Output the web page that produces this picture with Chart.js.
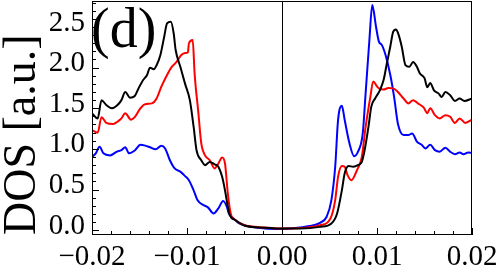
<!DOCTYPE html>
<html>
<head>
<meta charset="utf-8">
<script src="https://cdn.jsdelivr.net/npm/chart.js@4/dist/chart.umd.min.js"></script>
<style>
  body { margin: 0; background: #fff; }
  canvas { display: block; }
</style>
</head>
<body>
<canvas id="dosChart" width="500" height="269"></canvas>
<script>
// Energy / DOS readings for each curve
const blackE = [-0.0200,-0.0194,-0.0190,-0.0185,-0.0179,-0.0174,-0.0169,-0.0165,-0.0160,-0.0155,-0.0151,-0.0146,-0.0142,-0.0139,-0.0135,-0.0132,-0.0128,-0.0124,-0.0121,-0.0117,-0.0114,-0.0112,-0.0107,-0.0102,-0.0097,-0.0093,-0.0090,-0.0085,-0.0081,-0.0076,-0.0071,-0.0067,-0.0063,-0.0060,-0.0057,-0.0055,-0.0049,-0.0039,-0.0018,0,0.0019,0.0040,0.0052,0.0058,0.0063,0.0066,0.0070,0.0075,0.0080,0.0084,0.0087,0.0091,0.0094,0.0098,0.0103,0.0107,0.0110,0.0114,0.0117,0.0120,0.0122,0.0126,0.0130,0.0134,0.0138,0.0142,0.0145,0.0150,0.0153,0.0156,0.0160,0.0165,0.0168,0.0172,0.0177,0.0182,0.0187,0.0192,0.0200];
const blackDos = [1.44,1.375,1.60,1.54,1.50,1.53,1.60,1.70,1.63,1.65,1.745,1.85,1.91,2.0,1.98,2.03,2.155,2.38,2.545,2.565,2.42,2.22,2.01,1.80,1.60,1.27,0.985,0.86,0.80,0.84,0.81,0.78,0.656,0.49,0.287,0.185,0.123,0.053,0.03,0.02,0.02,0.04,0.082,0.205,0.49,0.70,0.79,0.78,0.80,0.84,0.985,1.27,1.52,1.62,1.72,1.85,2.03,2.26,2.44,2.47,2.43,2.26,2.03,2.01,2.07,2.01,1.93,1.87,1.76,1.81,1.72,1.68,1.64,1.70,1.66,1.59,1.62,1.59,1.62];

const redE = [-0.0200,-0.0194,-0.0190,-0.0185,-0.0178,-0.0172,-0.0169,-0.0165,-0.0159,-0.0155,-0.0149,-0.0144,-0.0137,-0.0132,-0.0127,-0.0121,-0.0116,-0.0111,-0.0106,-0.0102,-0.0099,-0.0098,-0.0094,-0.0092,-0.0088,-0.0085,-0.0081,-0.0076,-0.0071,-0.0067,-0.0063,-0.0060,-0.0057,-0.0054,-0.0049,-0.0039,-0.0018,0,0.0019,0.0040,0.0051,0.0056,0.0059,0.0063,0.0066,0.0069,0.0073,0.0079,0.0084,0.0088,0.0093,0.0096,0.0100,0.0102,0.0107,0.0112,0.0117,0.0122,0.0128,0.0133,0.0138,0.0143,0.0149,0.0153,0.0156,0.0161,0.0166,0.0172,0.0177,0.0182,0.0187,0.0193,0.0200];
const redDos = [1.23,1.20,1.39,1.32,1.305,1.345,1.375,1.44,1.36,1.39,1.50,1.55,1.56,1.62,1.765,1.91,2.01,2.07,2.155,2.18,2.19,2.30,2.34,1.93,1.44,1.07,0.92,0.86,0.76,0.82,0.895,0.82,0.45,0.205,0.123,0.06,0.033,0.02,0.025,0.06,0.144,0.37,0.656,0.79,0.78,0.677,0.615,0.74,0.90,1.27,1.64,1.83,1.77,1.745,1.73,1.75,1.745,1.70,1.62,1.56,1.60,1.56,1.51,1.44,1.50,1.415,1.375,1.415,1.395,1.32,1.375,1.32,1.36];

const blueE = [-0.0200,-0.0196,-0.0192,-0.0188,-0.0181,-0.0174,-0.0169,-0.0165,-0.0161,-0.0155,-0.0149,-0.0144,-0.0139,-0.0133,-0.0127,-0.0123,-0.0118,-0.0113,-0.0107,-0.0102,-0.0098,-0.0093,-0.0089,-0.0083,-0.0078,-0.0072,-0.0067,-0.0062,-0.0058,-0.0056,-0.0051,-0.0046,-0.0032,-0.0018,0,0.0008,0.0029,0.0040,0.0047,0.0052,0.0056,0.0059,0.0063,0.0066,0.0071,0.0076,0.0080,0.0085,0.0088,0.0092,0.0095,0.0099,0.0102,0.0105,0.0109,0.0114,0.0118,0.0122,0.0128,0.0133,0.0137,0.0142,0.0147,0.0151,0.0156,0.0161,0.0166,0.0172,0.0177,0.0182,0.0187,0.0191,0.0196,0.0200];
const blueDos = [0.90,0.945,1.025,0.945,0.92,0.965,0.985,1.02,0.945,0.98,1.05,1.04,1.02,0.995,1.04,1.005,0.86,0.76,0.72,0.665,0.615,0.49,0.37,0.31,0.28,0.205,0.267,0.36,0.287,0.205,0.144,0.09,0.04,0.02,0.015,0.02,0.05,0.09,0.165,0.37,0.78,1.355,1.53,1.355,1.07,0.91,0.965,1.19,1.68,2.34,2.77,2.50,2.32,2.28,2.155,1.91,1.64,1.31,1.17,1.17,1.19,1.09,1.05,1.005,1.05,0.985,0.965,1.015,0.965,0.935,0.955,0.935,0.955,0.95];

// Axis ticks
const xTicks = [-0.02, -0.01, 0, 0.01, 0.02];
const yTicks = [0, 0.5, 1.0, 1.5, 2.0, 2.5];
const xMinorStep = 0.002;
const yMinorStep = 0.1;
const yTitle = 'DOS [a.u.]';
const panelLabel = '(d)';

const serif = '"Liberation Serif", "Times New Roman", serif';

const toPoints = (xs, ys) => xs.map((x, i) => ({ x: x, y: ys[i] }));

// Frame, inward ticks and panel label
const framePlugin = {
  id: 'framePlugin',
  afterDraw(chart) {
    const { ctx, chartArea: a, scales } = chart;
    const xs = scales.x, ys = scales.y;
    ctx.save();
    ctx.strokeStyle = '#000';
    ctx.lineWidth = 1;
    ctx.strokeRect(a.left + 0.5, a.top + 0.5, a.right - a.left - 1, a.bottom - a.top - 1);

    ctx.beginPath();
    for (let k = Math.round(xs.min / xMinorStep); k <= Math.round(xs.max / xMinorStep); k++) {
      const v = k * xMinorStep;
      const px = Math.round(xs.getPixelForValue(v)) + 0.5;
      const len = xTicks.some(t => Math.abs(t - v) < 1e-9) ? 7 : 4;
      ctx.moveTo(px, a.bottom);
      ctx.lineTo(px, a.bottom - len);
    }
    for (let k = 0; k * yMinorStep <= ys.max; k++) {
      const v = k * yMinorStep;
      const py = Math.round(ys.getPixelForValue(v)) + 0.5;
      const len = yTicks.some(t => Math.abs(t - v) < 1e-9) ? 7 : 4;
      ctx.moveTo(a.left, py);
      ctx.lineTo(a.left + len, py);
    }
    ctx.stroke();

    ctx.fillStyle = '#000';
    ctx.font = '56px ' + serif;
    ctx.textBaseline = 'alphabetic';
    ctx.fillText(panelLabel, 91, 47);
    ctx.restore();
  }
};

new Chart(document.getElementById('dosChart'), {
  type: 'line',
  data: {
    datasets: [
      { label: 'black', data: toPoints(blackE, blackDos), borderColor: '#000000', order: 1 },
      { label: 'red', data: toPoints(redE, redDos), borderColor: '#ff0000', order: 2 },
      { label: 'blue', data: toPoints(blueE, blueDos), borderColor: '#0000ff', order: 3 }
    ]
  },
  options: {
    responsive: false,
    animation: false,
    devicePixelRatio: 1,
    layout: { padding: { left: 0, right: 28, top: 1, bottom: 0 } },
    elements: {
      point: { radius: 0 },
      line: { borderWidth: 2, cubicInterpolationMode: 'monotone', fill: false }
    },
    plugins: { legend: { display: false }, tooltip: { enabled: false } },
    scales: {
      x: {
        type: 'linear',
        min: -0.02,
        max: 0.02,
        afterBuildTicks: s => { s.ticks = xTicks.map(v => ({ value: v })); },
        afterFit: s => { s.height = 34; s.paddingLeft = 0; s.paddingRight = 0; },
        border: { display: false },
        grid: {
          drawTicks: false,
          color: c => (c.tick && c.tick.value === 0 ? '#000' : 'rgba(0,0,0,0)'),
          lineWidth: 1
        },
        ticks: {
          padding: 5,
          color: '#000',
          font: { family: serif, size: 29 },
          maxRotation: 0,
          autoSkip: false,
          callback: v => (v < 0 ? '\u2212' : '') + Math.abs(v).toFixed(2)
        }
      },
      y: {
        type: 'linear',
        min: -0.06,
        max: 2.82,
        afterBuildTicks: s => { s.ticks = yTicks.map(v => ({ value: v })); },
        afterFit: s => { s.width = 92; s.paddingTop = 0; s.paddingBottom = 0; },
        border: { display: false },
        grid: { display: false, drawTicks: false },
        ticks: {
          padding: 7,
          labelOffset: -4,
          color: '#000',
          font: { family: serif, size: 29 },
          autoSkip: false,
          callback: v => v.toFixed(1)
        },
        title: {
          display: true,
          text: yTitle,
          align: 'start',
          color: '#000',
          font: { family: serif, size: 46, lineHeight: 1 },
          padding: 0
        }
      }
    }
  },
  plugins: [framePlugin]
});
</script>
</body>
</html>
